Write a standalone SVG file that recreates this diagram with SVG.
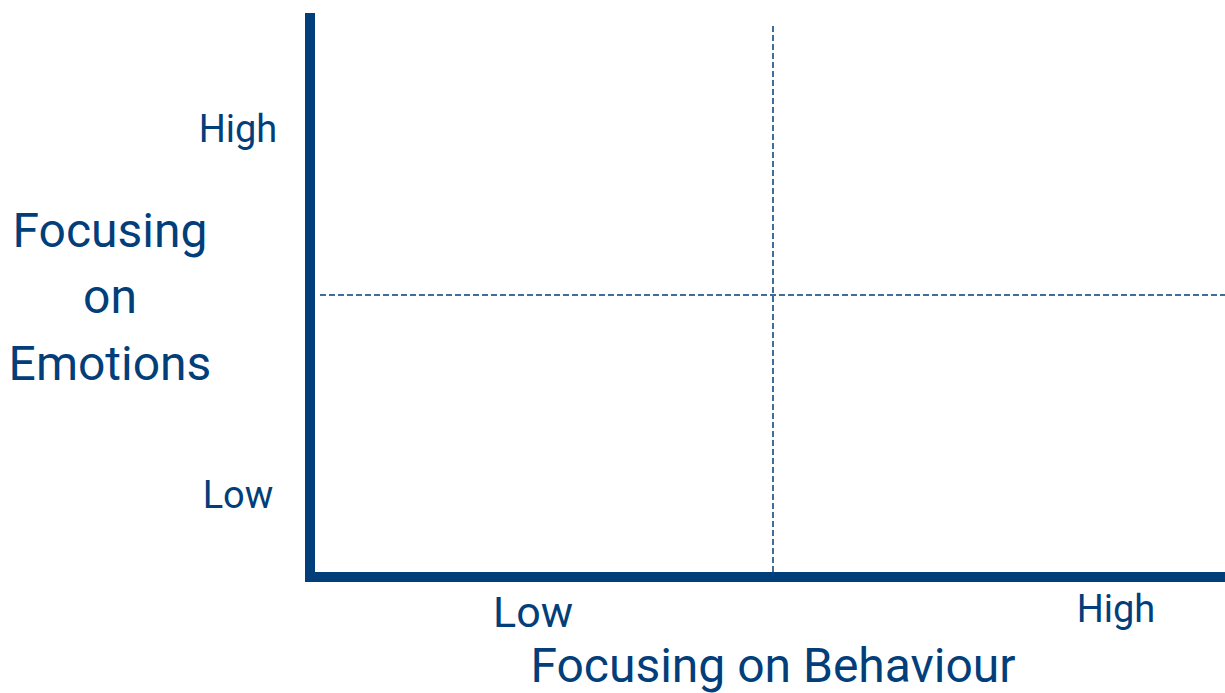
<svg xmlns="http://www.w3.org/2000/svg" width="1225" height="693" viewBox="0 0 1225 693">
  <style>
    .axis { stroke: #023f7a; stroke-width: 10; fill: none; }
    .grid { stroke: #023f7a; stroke-width: 1.5; stroke-dasharray: 6 3; fill: none; }
    .lbl { font-family: Roboto, "Liberation Sans", sans-serif; fill: #023f7a; }
    .tick { font-size: 38px; }
    .title { font-size: 48px; }
  </style>
  <rect width="1225" height="693" fill="#ffffff"/>
  <g id="connectors">
    <line class="grid" x1="773" y1="26" x2="773" y2="575"/>
    <line class="grid" x1="320" y1="295" x2="1225" y2="295"/>
    <polyline class="axis" points="310,13 310,577 1225,577"/>
  </g>
  <g id="y-axis-labels">
    <text class="lbl tick" x="238" y="142" text-anchor="middle">High</text>
    <text class="lbl tick" x="238" y="508" text-anchor="middle">Low</text>
    <text class="lbl title" x="110" y="247" text-anchor="middle">Focusing</text>
    <text class="lbl title" x="110" y="313" text-anchor="middle">on</text>
    <text class="lbl title" x="110" y="380" text-anchor="middle">Emotions</text>
  </g>
  <g id="x-axis-labels">
    <text class="lbl tick" x="533" y="627" text-anchor="middle" style="font-size:43px">Low</text>
    <text class="lbl tick" x="1116" y="622" text-anchor="middle">High</text>
    <text class="lbl title" x="773" y="682" text-anchor="middle">Focusing on Behaviour</text>
  </g>
</svg>
